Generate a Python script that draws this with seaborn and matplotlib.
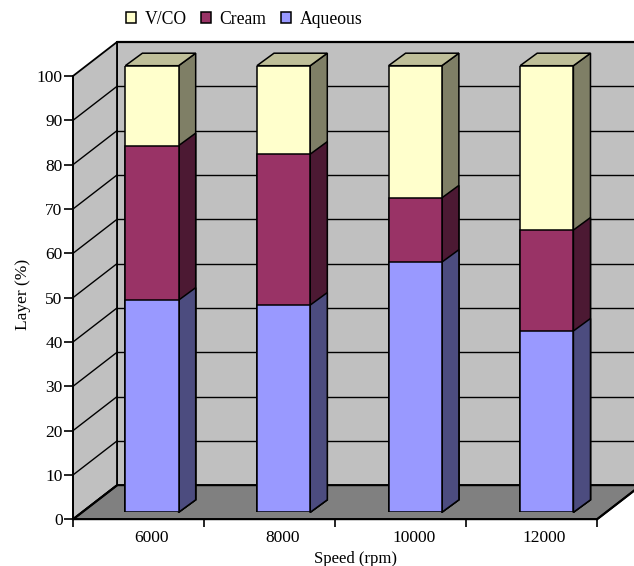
"""
Stacked 3D-look bars: layer share against centrifuge speed
"""

import pandas as pd
import seaborn as sns
import matplotlib.pyplot as plt
from matplotlib.patches import Patch, Polygon

speeds = ['6000', '8000', '10000', '12000']
aqueous = [47.5, 46.4, 56.0, 40.6]
cream = [34.6, 33.8, 14.4, 22.6]
vco = [17.9, 19.8, 29.6, 36.8]
y_ticks = [0, 10, 20, 30, 40, 50, 60, 70, 80, 90, 100]

W, H = 634, 566
# depth of the box and of the bars, in pixels
BOX_DX, BOX_DY = 44, 34
BAR_DX, BAR_DY = 17, 12.5
X_SCALE = 131.0
XLIM = (-0.6, 3.4)

sns.set_theme(style='white')
plt.rcParams['font.family'] = ['Liberation Serif', 'DejaVu Sans']


def axes_box(fig, left, right, top, bottom):
    """Axes placed from pixel edges"""
    return fig.add_axes([left / W, (H - bottom) / H, (right - left) / W, (bottom - top) / H])


def tracer_boite(ax):
    """Walls, floor and grid of the 3D box"""
    dx = BOX_DX / X_SCALE
    dy = BOX_DY / ((519.3 - 76) / 100)
    x0, x1 = XLIM
    wall = '#c0c0c0'
    faces = [
        ([(x0 + dx, dy), (x0 + dx, 100 + dy), (x1 + dx, 100 + dy), (x1 + dx, dy)], wall),
        ([(x0, 0), (x0, 100), (x0 + dx, 100 + dy), (x0 + dx, dy)], wall),
        ([(x0, 0), (x1, 0), (x1 + dx, dy), (x0 + dx, dy)], '#808080'),
    ]
    for pts, couleur in faces:
        ax.add_patch(Polygon(pts, closed=True, facecolor=couleur, edgecolor='black',
                             linewidth=1.3, clip_on=False, zorder=0.5))
    for t in y_ticks[1:-1]:
        ax.plot([x0, x0 + dx], [t, t + dy], color='black', lw=1.0, clip_on=False, zorder=0.6)
        ax.plot([x0 + dx, x1 + dx], [t + dy, t + dy], color='black', lw=1.0, clip_on=False, zorder=0.6)
    ax.plot([x0 + dx, x1 + dx], [100 + dy, 100 + dy], color='black', lw=1.6, clip_on=False, zorder=0.7)
    ax.plot([x0, x0 + dx], [0, dy], color='black', lw=1.6, clip_on=False, zorder=0.7)
    ax.plot([x1, x1 + dx], [0, dy], color='black', lw=1.6, clip_on=False, zorder=0.7)


def tracer_barres(ax, df):
    """Front faces as cumulative bars, tallest first, then side and top faces"""
    couches = [
        ('V/CO', '#ffffcc', '#7f7f66'),
        ('Cream', '#993366', '#4c1933'),
        ('Aqueous', '#9999ff', '#4c4c7f'),
    ]
    dx = BAR_DX / X_SCALE
    dy = BAR_DY / ((512.3 - 65.7) / 100)
    for nom, couleur, sombre in couches:
        sns.barplot(data=df, x='Speed', y=nom, color=couleur, saturation=1, width=0.405,
                    errorbar=None, edgecolor='black', linewidth=1.1, ax=ax)
        for p in ax.containers[-1]:
            right = p.get_x() + p.get_width()
            top = p.get_height()
            ax.add_patch(Polygon([(right, 0), (right, top), (right + dx, top + dy), (right + dx, dy)],
                                 closed=True, facecolor=sombre, edgecolor='black', linewidth=1.1,
                                 clip_on=False, zorder=0.9))
            if nom == 'V/CO':
                left = p.get_x()
                ax.add_patch(Polygon([(left, top), (right, top), (right + dx, top + dy), (left + dx, top + dy)],
                                     closed=True, facecolor='#bfbf99', edgecolor='black', linewidth=1.1,
                                     clip_on=False, zorder=0.9))


def main():
    df = pd.DataFrame({'Speed': speeds, 'Aqueous': aqueous, 'Cream': cream, 'V/CO': vco})
    # cumulative heights for the stack
    df['Cream'] = df['Aqueous'] + df['Cream']
    df['V/CO'] = df['Cream'] + df['V/CO']

    fig = plt.figure(figsize=(W / 100, H / 100), dpi=100)

    ax = axes_box(fig, 73, 597, 76, 519.3)
    ax.set_xlim(*XLIM)
    ax.set_ylim(0, 100)
    ax.patch.set_visible(False)
    tracer_boite(ax)
    ax.set_yticks(y_ticks)
    ax.set_xticks(range(len(speeds)))
    ax.set_xticklabels(speeds)
    ax.set_xticks([XLIM[0] + i for i in range(len(speeds) + 1)], minor=True)
    ax.tick_params(axis='x', which='major', length=0, pad=8, labelsize=12.5, colors='black')
    ax.tick_params(axis='x', which='minor', length=6, width=1.2, color='black', bottom=True)
    ax.tick_params(axis='y', length=6.5, width=1.2, color='black', left=True, pad=1,
                   labelsize=12.5, labelcolor='black')
    for nom in ['top', 'right']:
        ax.spines[nom].set_visible(False)
    for nom in ['left', 'bottom']:
        ax.spines[nom].set_color('black')
        ax.spines[nom].set_linewidth(1.3)
        ax.spines[nom].set_zorder(5)

    # bars slightly wider spaced than the axis ticks, as in the picture
    ax_bars = axes_box(fig, 73, 599.4, 65.7, 512.3)
    ax_bars.patch.set_visible(False)
    tracer_barres(ax_bars, df)
    ax_bars.set_xlim(*XLIM)
    ax_bars.set_ylim(0, 100)
    ax_bars.axis('off')

    fig.text(23 / W, 1 - 294 / H, 'Layer (%)', rotation=90, ha='center', va='center',
             fontsize=12.5, color='black')
    fig.text(355 / W, 1 - 559 / H, 'Speed (rpm)', ha='center', va='center',
             fontsize=12, color='black')

    handles = [Patch(facecolor=c, edgecolor='black', linewidth=1.1, label=n)
               for n, c in [('V/CO', '#ffffcc'), ('Cream', '#993366'), ('Aqueous', '#9999ff')]]
    fig.legend(handles=handles, loc='center', bbox_to_anchor=(244 / W, 1 - 19 / H), ncol=3,
               frameon=False, handlelength=0.57, handleheight=0.6, handletextpad=0.5,
               columnspacing=0.8, fontsize=12.7, labelcolor='black')

    fig.savefig('out.png', dpi=100)


if __name__ == '__main__':
    main()
